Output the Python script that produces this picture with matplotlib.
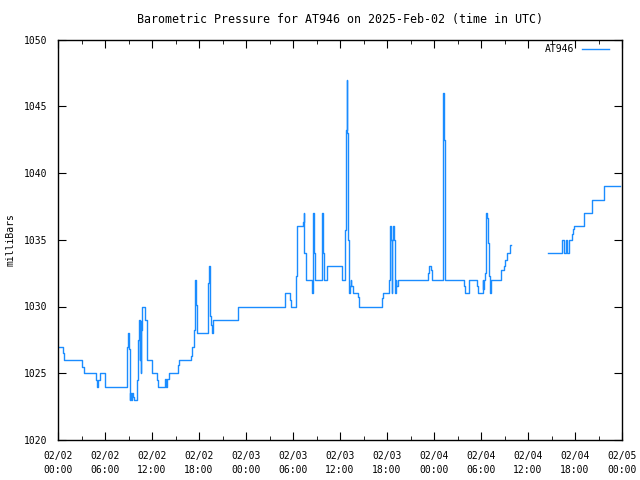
import matplotlib
matplotlib.use('Agg')
import matplotlib.pyplot as plt
import matplotlib.dates as mdates
import numpy as np
import pandas as pd

# hours since 2025-02-02 00:00 UTC and pressure readings (mbar)
hours = [0.0, 0.6, 0.8, 3.0, 3.1, 3.3, 4.7, 4.8, 4.95, 5.1, 5.3, 5.8, 6.0, 8.77,
         8.8, 8.85, 8.94, 9.0, 9.1, 9.15, 9.25, 9.35, 9.45, 9.55, 9.7, 10.08,
         10.1, 10.2, 10.35, 10.45, 10.5, 10.55, 10.65, 10.77, 11.0, 11.1, 11.3,
         11.85, 11.95, 12.05, 12.55, 12.65, 12.8, 13.6, 13.7, 13.85, 13.95, 14.2,
         15.3, 15.35, 15.45, 16.9, 17.0, 17.1, 17.3, 17.35, 17.5, 17.6, 17.8,
         19.0, 19.1, 19.2, 19.3, 19.35, 19.5, 19.6, 19.7, 19.8, 22.8, 23.0,
         28.8, 29.0, 29.5, 29.6, 29.7, 30.25, 30.4, 30.55, 31.2, 31.3, 31.4,
         31.45, 31.65, 32.3, 32.4, 32.5, 32.6, 32.7, 32.85, 33.6, 33.7, 33.8,
         33.9, 34.2, 34.3, 34.4, 36.1, 36.2, 36.3, 36.6, 36.7, 36.8, 36.9,
         36.95, 37.0, 37.2, 37.3, 37.35, 37.45, 37.6, 38.2, 38.3, 38.45, 41.2,
         41.3, 41.5, 42.2, 42.3, 42.4, 42.5, 42.6, 42.7, 42.8, 42.9, 43.0, 43.1,
         43.2, 43.4, 47.1, 47.2, 47.3, 47.5, 47.6, 47.7, 47.8, 49.0, 49.1,
         49.15, 49.2, 49.3, 49.35, 49.45, 51.75, 51.85, 51.95, 52.3, 52.45,
         53.45, 53.5, 53.6, 53.9, 54.2, 54.25, 54.35, 54.5, 54.64, 54.75, 54.9,
         55.05, 55.15, 55.3, 56.4, 56.6, 56.9, 57.1, 57.3, 57.7, 57.75,
         57.8,
         62.5, 64.2, 64.3, 64.55, 64.8, 65.0, 65.2, 65.4, 65.6, 65.75, 65.9,
         66.95, 67.1, 68.0, 68.15, 69.5, 69.65, 71.7]
pressure = [1027, 1026.5, 1026, 1026, 1025.5, 1025, 1025, 1024.5, 1024, 1024.5,
            1025, 1025, 1024, 1024,
            1025, 1027, 1028, 1027, 1026.8, 1023, 1023.5, 1023, 1023.5, 1023.2,
            1023, 1023,
            1024.5, 1027.5, 1029, 1026, 1028.9, 1025, 1028.25, 1030, 1030, 1029,
            1026, 1026, 1025.6, 1025, 1025, 1024.5, 1024, 1024, 1024.6, 1024,
            1024.6, 1025, 1025, 1025.6, 1026, 1026, 1026.3, 1027, 1027.5,
            1028.25, 1032, 1030.1, 1028, 1028, 1029.3, 1031.75, 1033, 1029.3,
            1028.6, 1028.3, 1028, 1029, 1029, 1030,
            1030, 1031, 1031, 1030.5, 1030, 1030, 1032.25, 1036, 1036, 1036.3,
            1037, 1034, 1032, 1032, 1031, 1034, 1037, 1034, 1032, 1032, 1037,
            1034, 1032, 1032, 1032.5, 1033, 1033, 1032.5, 1032, 1032, 1035.75,
            1043.25, 1047, 1043, 1035, 1031, 1031.5, 1032, 1031.5, 1031, 1031,
            1030.7, 1030, 1030,
            1030.6, 1031, 1031, 1032, 1036, 1035, 1031, 1035, 1036, 1035, 1031,
            1032, 1031.5, 1032, 1032, 1032.5, 1033, 1033, 1032.7, 1032.3, 1032,
            1032, 1035.5, 1042.5, 1046, 1042.5, 1035.5, 1032, 1032, 1031.5, 1031,
            1031, 1032, 1032, 1031.5, 1031, 1031, 1032, 1031.3, 1032, 1032.5,
            1037, 1036.6, 1034.75, 1032.25, 1031, 1032, 1032, 1032.75, 1033,
            1033.5, 1034, 1034, 1034.6,
            np.nan,
            1034, 1034, 1035, 1034, 1035, 1034, 1035, 1035, 1035.4, 1035.8, 1036,
            1036, 1037, 1037, 1038, 1038, 1039, 1039]

times = pd.Timestamp('2025-02-02') + pd.to_timedelta(hours, unit='h')

plt.rcParams['font.family'] = 'DejaVu Sans Mono'
plt.rcParams['font.size'] = 7

fig = plt.figure(figsize=(6.4, 4.8), dpi=100)
ax = fig.add_axes([58 / 640, 40 / 480, 564 / 640, 400.5 / 480])

ax.plot(times, pressure, color='#1a8cff', lw=1, drawstyle='steps-post', label='AT946')

ax.set_xlim(pd.Timestamp('2025-02-02'), pd.Timestamp('2025-02-05'))
ax.set_ylim(1020, 1050)
ax.set_yticks(np.arange(1020, 1051, 5))
ax.xaxis.set_major_locator(mdates.HourLocator(byhour=[0, 6, 12, 18]))
ax.xaxis.set_minor_locator(mdates.HourLocator(byhour=[3, 9, 15, 21]))
ax.xaxis.set_major_formatter(mdates.DateFormatter('%m/%d\n%H:%M'))
for lbl in ax.get_xticklabels():
    lbl.set_linespacing(1.5)

ax.tick_params(which='both', direction='in', top=True, right=True)
ax.tick_params(which='major', length=6, pad=8)
ax.tick_params(which='minor', length=3)
for s in ax.spines.values():
    s.set_linewidth(1)

ax.set_ylabel('milliBars')
ax.yaxis.set_label_coords(-0.075, 0.5)
ax.set_title('Barometric Pressure for AT946 on 2025-Feb-02 (time in UTC)', pad=12)

leg = ax.legend(loc='upper right', frameon=False, handlelength=2.8,
                markerfirst=False, borderaxespad=0.4,
                bbox_to_anchor=(0.991, 1.008))

fig.savefig('out.png', dpi=100)
